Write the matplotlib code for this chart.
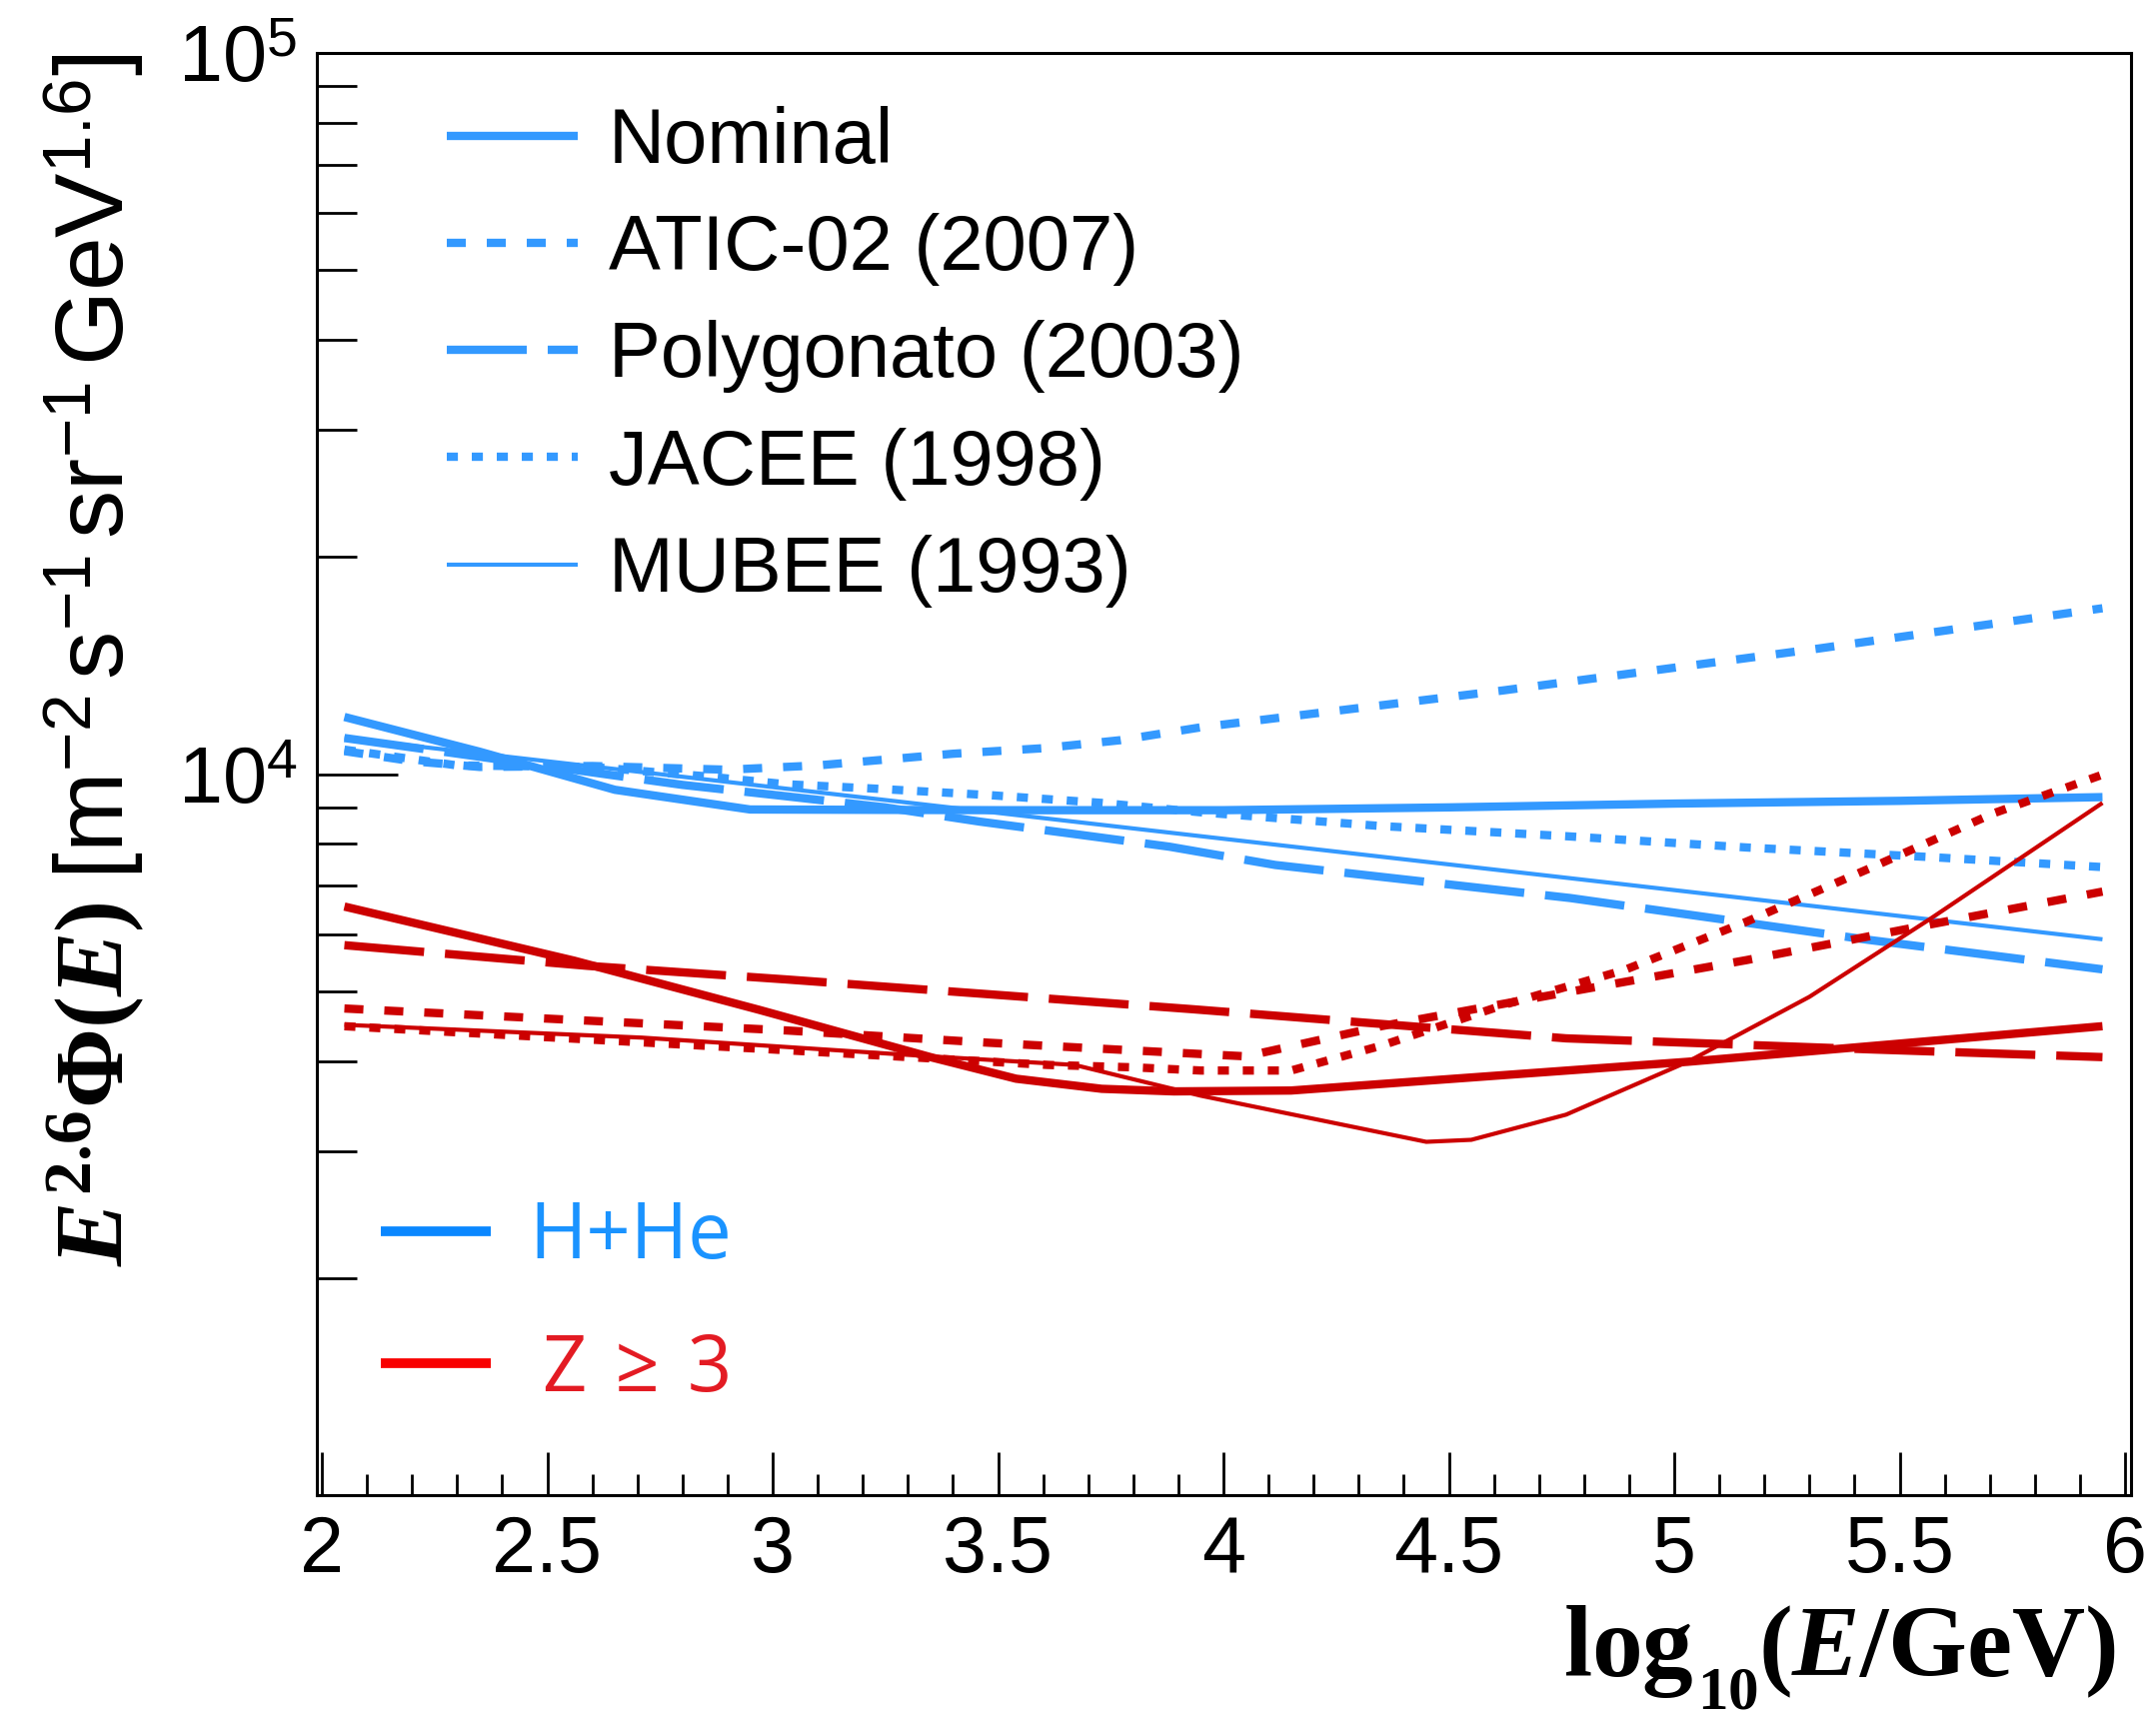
import math
import matplotlib
matplotlib.use("Agg")
import matplotlib.pyplot as plt
from matplotlib.lines import Line2D
from matplotlib.ticker import FixedLocator, FuncFormatter, MultipleLocator, NullFormatter

# ---------------------------------------------------------------------------
# Flux models, E^2.6 * Phi(E)  [m^-2 s^-1 sr^-1 GeV^1.6], vs log10(E/GeV)
# ---------------------------------------------------------------------------
# H+He component
hhe_nominal_x = [2.05, 2.35, 2.65, 2.95, 3.5, 4.0, 4.5, 5.0, 5.5, 5.95]
hhe_nominal_y = [12000, 10740, 9510, 8930, 8910, 8910, 8990, 9100, 9180, 9290]

hhe_atic_x = [2.05, 2.2, 2.35, 2.6, 2.9, 3.1, 3.4, 3.6, 3.77, 3.95, 4.62, 5.32, 5.95]
hhe_atic_y = [10760, 10420, 10230, 10260, 10140, 10280, 10670, 10860, 11140, 11610,
              13060, 14930, 16980]

hhe_poly_x = [2.05, 2.8, 3.02, 3.25, 3.46, 3.68, 3.88, 4.115, 4.77, 5.43, 5.95]
hhe_poly_y = [11220, 9660, 9330, 8990, 8590, 8240, 7930, 7480, 6730, 5890, 5360]

hhe_jacee_x = [2.05, 2.3, 2.6, 2.85, 3.03, 3.22, 3.48, 3.73, 3.95, 4.35, 4.76, 5.16,
               5.57, 5.95]
hhe_jacee_y = [10810, 10280, 10230, 9930, 9680, 9550, 9350, 9120, 8850, 8470, 8200,
               7910, 7670, 7430]

hhe_mubee_x = [2.05, 3.22, 3.95, 4.89, 5.95]
hhe_mubee_y = [11220, 9250, 8200, 7030, 5900]

# Z >= 3 component
z3_nominal_x = [2.05, 2.56, 2.97, 3.35, 3.54, 3.73, 3.89, 4.15, 5.03, 5.95]
z3_nominal_y = [6550, 5510, 4710, 4050, 3780, 3660, 3630, 3640, 3990, 4470]

z3_atic_x = [2.05, 2.59, 3.03, 3.48, 3.95, 4.05, 4.35, 4.76, 5.16, 5.57, 5.95]
z3_atic_y = [4730, 4550, 4410, 4240, 4090, 4060, 4470, 4980, 5520, 6190, 6870]

z3_poly_x = [2.05, 2.59, 3.03, 3.48, 3.93, 4.76, 5.44, 5.95]
z3_poly_y = [5790, 5420, 5190, 4950, 4720, 4300, 4150, 4050]

z3_jacee_x = [2.05, 2.97, 3.61, 3.80, 3.95, 4.15, 4.35, 4.62, 4.89, 5.16, 5.44, 5.71,
              5.95]
z3_jacee_y = [4470, 4160, 3950, 3920, 3880, 3880, 4200, 4780, 5350, 6240, 7430, 8830,
              9980]

z3_mubee_x = [2.05, 2.71, 3.35, 3.67, 3.95, 4.45, 4.55, 4.76, 5.03, 5.30, 5.57, 5.95]
z3_mubee_y = [4490, 4310, 4060, 3950, 3580, 3090, 3110, 3370, 3990, 4910, 6310, 9120]

model_labels = ["Nominal", "ATIC-02 (2007)", "Polygonato (2003)", "JACEE (1998)",
                "MUBEE (1993)"]
species_labels = ["H+He", "\u2009Z \u200a\u2265 \u200a3"]
x_ticks = [2, 2.5, 3, 3.5, 4, 4.5, 5, 5.5, 6]

# ---------------------------------------------------------------------------
# Style
# ---------------------------------------------------------------------------
plt.rcParams["font.family"] = ["Liberation Sans", "DejaVu Sans"]
plt.rcParams["mathtext.fontset"] = "custom"
plt.rcParams["mathtext.rm"] = "Liberation Serif:bold"
plt.rcParams["mathtext.it"] = "Liberation Serif:italic:bold"
plt.rcParams["mathtext.bf"] = "Liberation Serif:bold"
plt.rcParams["mathtext.sf"] = "Liberation Sans"
plt.rcParams["lines.scale_dashes"] = False

BLUE = "#3399ff"
RED = "#cc0000"
THICK = 6.0
THIN = 3.0

# linestyle per model: (linewidth, dash pattern or None)
styles = [
    (THICK, None),
    (THICK, (13.7, 15.1)),
    (THICK, (57.6, 15.1)),
    (THICK, (8.0, 10.0)),
    (THIN, None),
]

W, H, DPI = 2157, 1726, 100
fig = plt.figure(figsize=(W / DPI, H / DPI), dpi=DPI)
ax = fig.add_axes([317 / W, 1 - 1496 / H, (2132 - 317) / W, (1496 - 53) / H])


def draw(x, y, color, style):
    lw, dashes = style
    line, = ax.plot(x, y, color=color, lw=lw, solid_joinstyle="miter",
                    dash_capstyle="butt", solid_capstyle="butt")
    if dashes is not None:
        line.set_dashes(dashes)
    return line


hhe_sets = [(hhe_nominal_x, hhe_nominal_y), (hhe_atic_x, hhe_atic_y),
            (hhe_poly_x, hhe_poly_y), (hhe_jacee_x, hhe_jacee_y),
            (hhe_mubee_x, hhe_mubee_y)]
z3_sets = [(z3_nominal_x, z3_nominal_y), (z3_atic_x, z3_atic_y),
           (z3_poly_x, z3_poly_y), (z3_jacee_x, z3_jacee_y),
           (z3_mubee_x, z3_mubee_y)]

for (x, y), st in zip(hhe_sets, styles):
    draw(x, y, BLUE, st)
for (x, y), st in zip(z3_sets, styles):
    draw(x, y, RED, st)

# ---------------------------------------------------------------------------
# Axes
# ---------------------------------------------------------------------------
ax.set_yscale("log")
ax.set_xlim(2 - 5 / 451, 6 + 6 / 451)
ax.set_ylim(1000, 1e5)

for sp in ax.spines.values():
    sp.set_linewidth(2.2)

ax.xaxis.set_major_locator(FixedLocator(x_ticks))
ax.xaxis.set_minor_locator(MultipleLocator(0.1))
ax.xaxis.set_major_formatter(FuncFormatter(lambda v, p: f"{v:g}"))
ax.yaxis.set_major_locator(FixedLocator([1e4, 1e5]))
ax.yaxis.set_minor_locator(FixedLocator([m * 10 ** e for e in (3, 4) for m in range(2, 10)]))
ax.yaxis.set_major_formatter(FuncFormatter(
    lambda v, p: r"$\mathsf{10}^{\mathsf{%d}}$" % round(math.log10(v))))
ax.yaxis.set_minor_formatter(NullFormatter())

ax.tick_params(axis="both", which="both", direction="in", top=False, right=False,
               width=2.0, labelsize=57, pad=14)
ax.tick_params(axis="x", which="major", length=31)
ax.tick_params(axis="x", which="minor", length=15)
ax.tick_params(axis="y", which="major", length=58)
ax.tick_params(axis="y", which="minor", length=29)

# x-axis title, right-aligned at the axis end, with a lowered subscript
renderer = fig.canvas.get_renderer()
t_unit = fig.text(2117 / W, 1 - 1677 / H, r"$\mathrm{(}\mathit{E}\mathrm{/GeV)}$",
                  fontsize=73, ha="right", va="baseline")
bb = t_unit.get_window_extent(renderer)
t_sub = fig.text(bb.x0 / W, 1 - 1709 / H, r"$\mathrm{10}$",
                 fontsize=44, ha="right", va="baseline")
bb = t_sub.get_window_extent(renderer)
fig.text((bb.x0 - 4) / W, 1 - 1677 / H, r"$\mathrm{log}$",
         fontsize=73, ha="right", va="baseline")

# y-axis title, aligned to the top of the axis
fig.text(95 / W, 1 - 54 / H,
         r"$\mathit{E}^{\mathrm{2.6}}\mathrm{\Phi}\mathrm{(}\mathit{E}\mathrm{)}"
         r"\;\mathsf{[m}^{\mathsf{-2}}\,\mathsf{s}^{\mathsf{-1}}\,\mathsf{sr}^{\mathsf{-1}}"
         r"\,\mathsf{GeV}^{\mathsf{1.6}}\mathsf{]}$",
         fontsize=69.5, rotation=90, ha="center", va="top")

# ---------------------------------------------------------------------------
# Legends
# ---------------------------------------------------------------------------
model_handles = []
for lw, dashes in styles:
    h = Line2D([], [], color=BLUE, lw=lw, solid_capstyle="butt", dash_capstyle="butt")
    if dashes is not None:
        h.set_dashes(dashes)
    model_handles.append(h)

leg1 = fig.legend(model_handles, model_labels, loc="upper left",
                  bbox_to_anchor=(447 / W, 1 - 106 / H), frameon=False,
                  prop={"family": "Liberation Sans", "size": 56},
                  handlelength=1.68, handletextpad=0.40, labelspacing=0.44,
                  borderpad=0, borderaxespad=0)

species_handles = [Line2D([], [], color="#0a87ff", lw=7, solid_capstyle="butt"),
                   Line2D([], [], color="#f80000", lw=7, solid_capstyle="butt")]
leg2 = fig.legend(species_handles, species_labels, loc="upper left",
                  bbox_to_anchor=(381 / W, 1 - 1199 / H), frameon=False,
                  prop={"family": ["Open Sans", "DejaVu Sans"], "size": 56},
                  labelcolor=["#1a93ff", "#e31b23"],
                  handlelength=1.41, handletextpad=0.5, labelspacing=0.69,
                  borderpad=0, borderaxespad=0)

fig.savefig("out.png", dpi=DPI)
